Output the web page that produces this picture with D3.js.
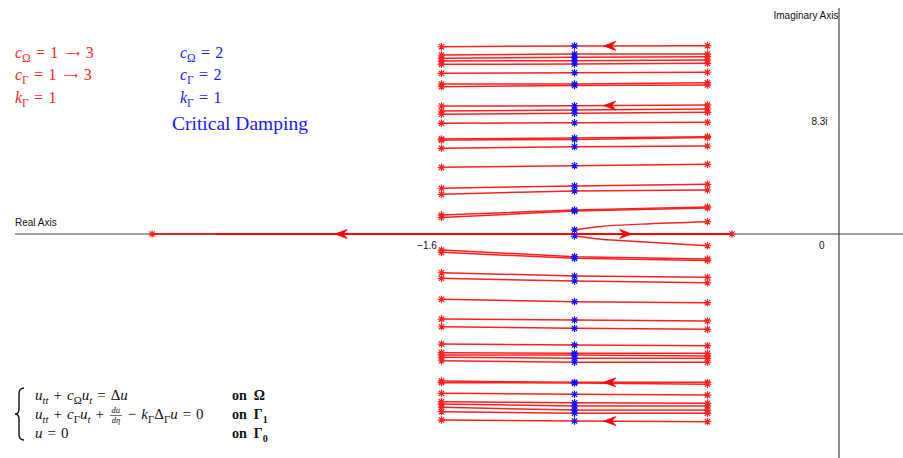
<!DOCTYPE html>
<html>
<head>
<meta charset="utf-8">
<script src="https://cdn.jsdelivr.net/npm/d3@7"></script>
<style>
  body { margin: 0; background: #fff; }
  svg { display: block; }
</style>
</head>
<body>
<div id="chart"></div>
<script>
var width = 903;
var height = 458;

// real part of each eigenvalue at c = 3, c = 2, c = 1
var realParts = [-1.5, -1.0, -0.5];

// imaginary parts, top to bottom, for the three damping values
var imagLeft = [13.87, 13.26, 13.01, 12.81, 12.57, 11.90, 11.11, 10.91, 9.48, 9.11,
  8.87, 8.20, 7.04, 6.96, 6.35, 4.94, 3.39, 2.94, 1.41, 1.22,
  -1.19, -1.36, -2.87, -3.28, -4.84, -6.30, -6.87, -8.15, -8.79, -8.96,
  -9.13, -9.39, -10.89, -11.01, -11.80, -12.42, -12.59, -12.84, -13.16, -13.78];
var imagMid = [13.93, 13.33, 13.09, 12.84, 12.59, 11.95, 11.11, 11.00, 9.50, 9.19,
  8.94, 8.24, 7.11, 7.00, 6.47, 5.06, 3.56, 3.19, 1.78, 1.70,
  -1.68, -1.80, -3.11, -3.48, -5.01, -6.37, -6.99, -8.22, -8.84, -8.96,
  -9.21, -9.50, -10.99, -11.04, -11.87, -12.50, -12.74, -13.04, -13.28, -13.85];
var imagRight = [13.95, 13.33, 13.13, 12.89, 12.64, 11.98, 11.21, 11.04, 9.56, 9.26,
  9.01, 8.27, 7.21, 7.15, 6.52, 5.16, 3.68, 3.26, 2.00, 1.93,
  -1.85, -1.96, -3.21, -3.61, -5.09, -6.44, -7.06, -8.27, -8.84, -9.04,
  -9.21, -9.50, -10.99, -11.13, -11.93, -12.54, -12.74, -13.04, -13.28, -13.90];

// the pair that turns real: curved branches near the axis
var branchRe = [-1.0, -0.9, -0.75, -0.5];
var branchUpIm = [0.30, 0.56, 0.73, 0.91];
var branchDownIm = [-0.15, -0.39, -0.57, -0.87];

// real eigenvalues at c = 3
var realEnds = [-2.588, -0.408];
var realOverlapStart = -2.35;

// arrows
var arrowLines = [0, 8, 32, 39];
var arrowRe = -0.89;
var realArrows = [{ re: -1.90, dir: -1 }, { re: -0.785, dir: 1 }];

// tick labels
var xTickLabels = [{ v: -1.6, t: "\u22121.6" }, { v: 0, t: "0" }];
var yTickLabels = [{ v: 8.3, t: "8.3i" }];

var x = d3.scaleLinear().domain([-1.5, -0.5]).range([441.5, 707.5]);
var y = d3.scaleLinear().domain([0, 10]).range([234, 99]);

var svg = d3.select("#chart").append("svg")
  .attr("width", width)
  .attr("height", height);

// axes
svg.append("line")
  .attr("x1", 15).attr("x2", width)
  .attr("y1", y(0)).attr("y2", y(0))
  .attr("stroke", "#444").attr("stroke-width", 1);
svg.append("line")
  .attr("x1", x(0) - 1.5).attr("x2", x(0) - 1.5)
  .attr("y1", 8).attr("y2", height)
  .attr("stroke", "#222").attr("stroke-width", 1);

svg.append("text").attr("x", 15).attr("y", 226)
  .attr("font-family", "Liberation Sans, Arial, sans-serif").attr("font-size", 10)
  .attr("fill", "#111").text("Real Axis");
svg.append("text").attr("x", x(0) - 2).attr("y", 19).attr("text-anchor", "end")
  .attr("font-family", "Liberation Sans, Arial, sans-serif").attr("font-size", 10)
  .attr("fill", "#111").text("Imaginary Axis");

svg.selectAll(".xtick").data(xTickLabels).enter().append("text")
  .attr("class", "xtick")
  .attr("x", function (d) { return d.v === 0 ? x(d.v) - 16 : x(d.v) + 22; })
  .attr("y", 249).attr("text-anchor", "end")
  .attr("font-family", "Liberation Sans, Arial, sans-serif").attr("font-size", 10)
  .attr("fill", "#111")
  .text(function (d) { return d.t; });

svg.selectAll(".ytick").data(yTickLabels).enter().append("text")
  .attr("class", "ytick")
  .attr("x", x(0) - 13).attr("y", function (d) { return y(d.v) + 3; })
  .attr("text-anchor", "end")
  .attr("font-family", "Liberation Sans, Arial, sans-serif").attr("font-size", 10)
  .attr("fill", "#111")
  .text(function (d) { return d.t; });

// locus lines
var lineGen = d3.line()
  .x(function (d) { return x(d[0]); })
  .y(function (d) { return y(d[1]); });

var loci = imagLeft.map(function (v, i) {
  return [[realParts[0], v], [realParts[1], imagMid[i]], [realParts[2], imagRight[i]]];
});

var locusG = svg.append("g");
locusG.selectAll("path").data(loci).enter().append("path")
  .attr("d", lineGen)
  .attr("fill", "none")
  .attr("stroke", "#ff2020")
  .attr("stroke-width", 1.5);

var curveGen = d3.line().curve(d3.curveMonotoneX)
  .x(function (d) { return x(d[0]); })
  .y(function (d) { return y(d[1]); });

[branchUpIm, branchDownIm].forEach(function (arr) {
  svg.append("path")
    .attr("d", curveGen(branchRe.map(function (r, i) { return [r, arr[i]]; })))
    .attr("fill", "none").attr("stroke", "#ff2020").attr("stroke-width", 1.4);
});

// real axis branches
svg.append("line")
  .attr("x1", x(realEnds[0])).attr("x2", x(realEnds[1]))
  .attr("y1", y(0)).attr("y2", y(0))
  .attr("stroke", "#e00000").attr("stroke-width", 1.4);
svg.append("line")
  .attr("x1", x(realOverlapStart)).attr("x2", x(realEnds[1]))
  .attr("y1", y(0)).attr("y2", y(0))
  .attr("stroke", "#ff0000").attr("stroke-width", 2);

// arrowheads
function arrow(cx, cy, dir) {
  var L = 12, h = 4.5, n = 8;
  return "M" + cx + "," + cy +
    "L" + (cx - dir * L) + "," + (cy - h) +
    "L" + (cx - dir * n) + "," + cy +
    "L" + (cx - dir * L) + "," + (cy + h) + "Z";
}

arrowLines.forEach(function (i) {
  var t = (arrowRe - realParts[1]) / (realParts[2] - realParts[1]);
  var im = imagMid[i] + t * (imagRight[i] - imagMid[i]);
  svg.append("path").attr("d", arrow(x(arrowRe), y(im), -1))
    .attr("fill", "#ff0000").attr("stroke", "#ff0000").attr("stroke-width", 0.8);
});
realArrows.forEach(function (a) {
  svg.append("path").attr("d", arrow(x(a.re), y(0), a.dir))
    .attr("fill", "#ff0000").attr("stroke", "#ff0000").attr("stroke-width", 0.8);
});

// asterisk markers
function star(g, px, py, color) {
  var r = 3.7, d = r * 0.72;
  g.append("path")
    .attr("d", "M" + (px - r) + "," + py + "H" + (px + r) +
      "M" + px + "," + (py - r) + "V" + (py + r) +
      "M" + (px - d) + "," + (py - d) + "L" + (px + d) + "," + (py + d) +
      "M" + (px - d) + "," + (py + d) + "L" + (px + d) + "," + (py - d))
    .attr("stroke", color).attr("stroke-width", 1.2).attr("fill", "none");
}

var markG = svg.append("g");
loci.forEach(function (pts) {
  star(markG, x(pts[0][0]), y(pts[0][1]), "#ff2020");
  star(markG, x(pts[2][0]), y(pts[2][1]), "#ff2020");
});
[branchUpIm, branchDownIm].forEach(function (arr) {
  star(markG, x(branchRe[branchRe.length - 1]), y(arr[arr.length - 1]), "#ff2020");
});
realEnds.forEach(function (r) { star(markG, x(r), y(0), "#ff2020"); });
loci.forEach(function (pts) {
  star(markG, x(pts[1][0]), y(pts[1][1]), "#1010ff");
});
[branchUpIm, branchDownIm].forEach(function (arr) {
  star(markG, x(branchRe[0]), y(arr[0]), "#1010ff");
});

// math text helper
var serif = "Liberation Serif, Times New Roman, serif";
function mathText(g, px, py, parts, size, color, weight) {
  var t = g.append("text").attr("x", px).attr("y", py)
    .attr("font-family", serif).attr("font-size", size)
    .attr("fill", color).attr("font-weight", weight || "normal")
    .attr("xml:space", "preserve");
  var shift = 0;
  parts.forEach(function (p) {
    var ts = t.append("tspan").text(p.t);
    var want = p.sub ? size * 0.28 : 0;
    if (want !== shift) { ts.attr("dy", want - shift); shift = want; }
    if (p.sub) ts.attr("font-size", size * 0.72);
    if (p.i) ts.attr("font-style", "italic");
  });
  return t;
}

var S = "\u2004";   // medium math space
var red = "#ff1f1f";
var blue = "#1a1aff";
var left = svg.append("g");
[[58, "\u03A9", true], [80, "\u0393", true], [103, "\u0393", false]].forEach(function (r, i) {
  var sym = i === 2 ? "k" : "c";
  var head = mathText(left, 15, r[0], [{ t: sym, i: true }, { t: r[1], sub: true }, { t: S + "=" + S + "1" }], 16, red);
  if (r[2]) {
    // long arrow, then the end value
    var ax = 15 + head.node().getComputedTextLength() + 7;
    var arr = left.append("text")
      .attr("x", ax).attr("y", r[0] - 1)
      .attr("font-family", "DejaVu Sans").attr("font-size", 10).attr("fill", red)
      .text("\u27F6");
    var aw = arr.node().getComputedTextLength();
    left.append("text").attr("x", ax + aw + 6).attr("y", r[0])
      .attr("font-family", serif).attr("font-size", 16).attr("fill", red)
      .text("3");
  }
  var blueVal = i === 2 ? "1" : "2";
  mathText(left, 180, r[0], [{ t: sym, i: true }, { t: r[1], sub: true }, { t: S + "=" + S + blueVal }], 16, blue);
});
left.append("text").attr("x", 172).attr("y", 130)
  .attr("font-family", serif).attr("font-size", 19.5).attr("fill", blue)
  .text("Critical Damping");

// boundary value problem
var eq = svg.append("g");
var fs = 15;
eq.append("path")
  .attr("d", "M24,388 Q19,388 19,394 L19,409 Q19,414 15,414 Q19,414 19,419 L19,434 Q19,440 24,440")
  .attr("fill", "none").attr("stroke", "#111").attr("stroke-width", 1.4);

mathText(eq, 35, 400, [{ t: "u", i: true }, { t: "tt", sub: true, i: true }, { t: S + "+" + S },
  { t: "c", i: true }, { t: "\u03A9", sub: true }, { t: "u", i: true }, { t: "t", sub: true, i: true },
  { t: S + "=" + S + "\u0394" }, { t: "u", i: true }], fs, "#111");

var l2 = mathText(eq, 35, 419, [{ t: "u", i: true }, { t: "tt", sub: true, i: true }, { t: S + "+" + S },
  { t: "c", i: true }, { t: "\u0393", sub: true }, { t: "u", i: true }, { t: "t", sub: true, i: true },
  { t: S + "+" + S }], fs, "#111");
var fx = 35 + l2.node().getComputedTextLength() + 1;
eq.append("text").attr("x", fx + 6).attr("y", 413).attr("text-anchor", "middle")
  .attr("font-family", serif).attr("font-size", 8.5).attr("font-style", "italic")
  .attr("fill", "#111").text("du");
eq.append("line").attr("x1", fx).attr("x2", fx + 12).attr("y1", 415.5).attr("y2", 415.5)
  .attr("stroke", "#111").attr("stroke-width", 0.6);
eq.append("text").attr("x", fx + 6).attr("y", 422.5).attr("text-anchor", "middle")
  .attr("font-family", serif).attr("font-size", 8.5).attr("font-style", "italic")
  .attr("fill", "#111").text("d\u03B7");
mathText(eq, fx + 13, 419, [{ t: S + "\u2212" + S }, { t: "k", i: true }, { t: "\u0393", sub: true },
  { t: "\u0394" }, { t: "\u0393", sub: true }, { t: "u", i: true }, { t: S + "=" + S + "0" }], fs, "#111");

mathText(eq, 35, 438, [{ t: "u", i: true }, { t: S + "=" + S + "0" }], fs, "#111");

mathText(eq, 232, 400, [{ t: "on  \u03A9" }], 14, "#111", "bold");
mathText(eq, 232, 419, [{ t: "on  \u0393" }, { t: "1", sub: true }], 14, "#111", "bold");
mathText(eq, 232, 438, [{ t: "on  \u0393" }, { t: "0", sub: true }], 14, "#111", "bold");
</script>
</body>
</html>
